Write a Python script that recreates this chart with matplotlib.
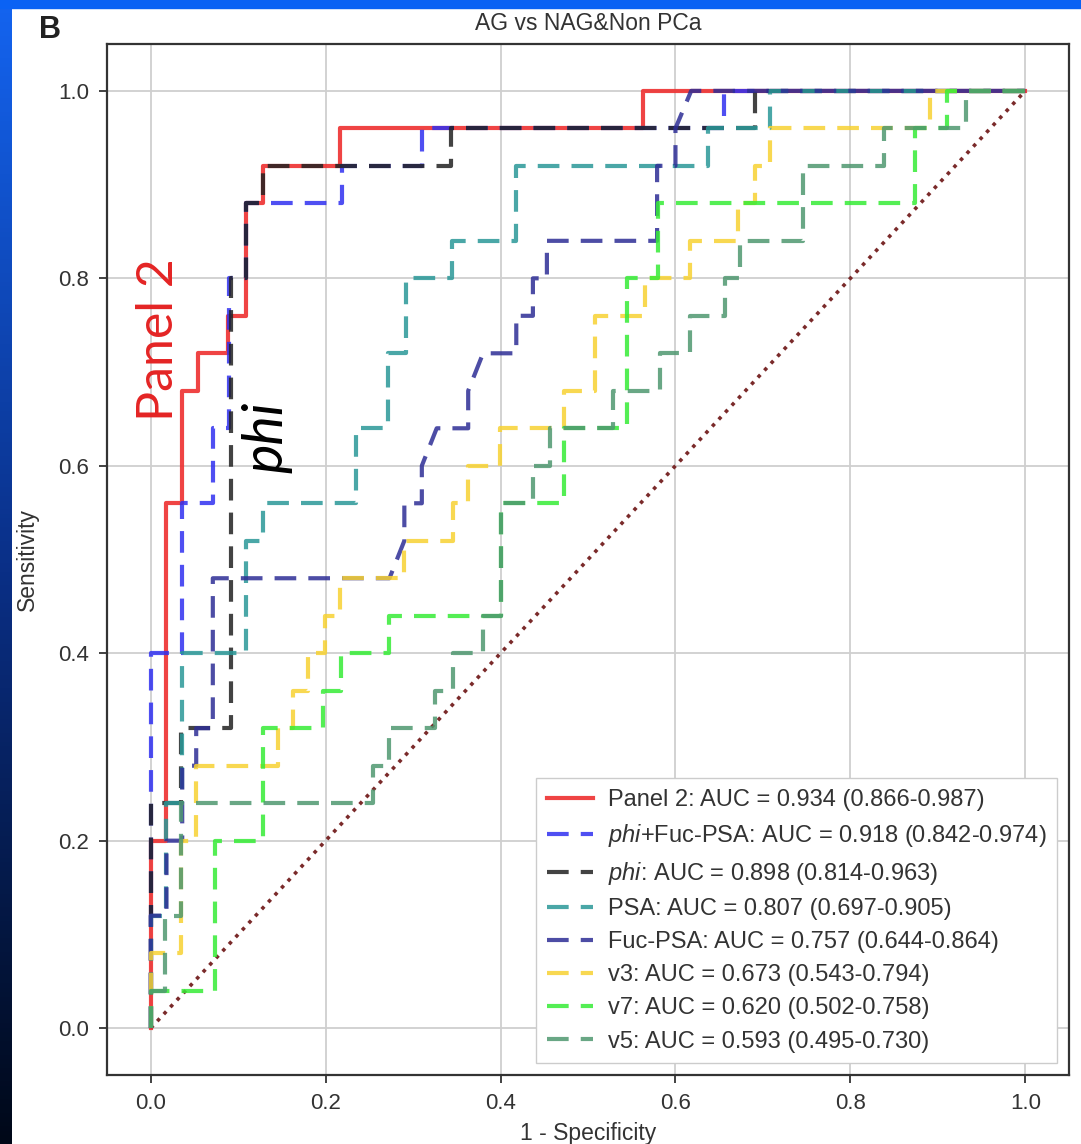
import numpy as np
import matplotlib
matplotlib.use("Agg")
import matplotlib.pyplot as plt
from matplotlib.colors import LinearSegmentedColormap
from matplotlib.patches import Rectangle

plt.rcParams['font.family'] = ['Liberation Sans', 'DejaVu Sans']
plt.rcParams['mathtext.fontset'] = 'custom'
plt.rcParams['mathtext.it'] = 'Liberation Sans:italic'
plt.rcParams['mathtext.rm'] = 'Liberation Sans'

# ---------------- data ----------------
title = "AG vs NAG&Non PCa"
ticks = [0.0, 0.2, 0.4, 0.6, 0.8, 1.0]

panel2_fpr = [0, 0, 0.018, 0.018, 0.036, 0.036, 0.054, 0.054, 0.088, 0.088, 0.109, 0.109,
              0.128, 0.128, 0.216, 0.216, 0.563, 0.563, 1.0]
panel2_tpr = [0, 0.20, 0.20, 0.56, 0.56, 0.68, 0.68, 0.72, 0.72, 0.76, 0.76, 0.88,
              0.88, 0.92, 0.92, 0.96, 0.96, 1.0, 1.0]

phifuc_fpr = [0, 0, 0.036, 0.036, 0.071, 0.071, 0.090, 0.090, 0.109, 0.109, 0.219, 0.219,
              0.310, 0.310, 0.656, 0.656, 1.0]
phifuc_tpr = [0, 0.40, 0.40, 0.56, 0.56, 0.64, 0.64, 0.80, 0.80, 0.88, 0.88, 0.92,
              0.92, 0.96, 0.96, 1.0, 1.0]

phi_fpr = [0, 0, 0.035, 0.035, 0.092, 0.092, 0.109, 0.109, 0.128, 0.128, 0.343, 0.343,
           0.691, 0.691, 1.0]
phi_tpr = [0, 0.24, 0.24, 0.32, 0.32, 0.80, 0.80, 0.88, 0.88, 0.92, 0.92, 0.96,
           0.96, 1.0, 1.0]

psa_fpr = [0, 0, 0.018, 0.018, 0.036, 0.036, 0.109, 0.109, 0.128, 0.128, 0.235, 0.235,
           0.271, 0.271, 0.292, 0.292, 0.344, 0.344, 0.418, 0.418, 0.637, 0.637,
           0.708, 0.708, 1.0]
psa_tpr = [0, 0.12, 0.12, 0.24, 0.24, 0.40, 0.40, 0.52, 0.52, 0.56, 0.56, 0.64,
           0.64, 0.72, 0.72, 0.80, 0.80, 0.84, 0.84, 0.92, 0.92, 0.96,
           0.96, 1.0, 1.0]

fucpsa_fpr = [0, 0, 0.018, 0.018, 0.036, 0.036, 0.052, 0.052, 0.071, 0.071, 0.273, 0.290,
              0.290, 0.310, 0.310, 0.327, 0.363, 0.363, 0.380, 0.418, 0.418, 0.437,
              0.437, 0.453, 0.453, 0.579, 0.579, 0.600, 0.600, 0.618, 1.0]
fucpsa_tpr = [0, 0.12, 0.12, 0.20, 0.20, 0.28, 0.28, 0.32, 0.32, 0.48, 0.48, 0.52,
              0.56, 0.56, 0.60, 0.64, 0.64, 0.68, 0.72, 0.72, 0.76, 0.76,
              0.80, 0.80, 0.84, 0.84, 0.92, 0.92, 0.96, 1.0, 1.0]

v3_fpr = [0, 0, 0.035, 0.035, 0.052, 0.052, 0.146, 0.146, 0.163, 0.163, 0.180, 0.180,
          0.199, 0.199, 0.216, 0.216, 0.290, 0.290, 0.346, 0.346, 0.363, 0.363,
          0.399, 0.399, 0.472, 0.472, 0.508, 0.508, 0.565, 0.565, 0.617, 0.617,
          0.672, 0.672, 0.691, 0.691, 0.708, 0.708, 0.891, 0.891, 1.0]
v3_tpr = [0, 0.08, 0.08, 0.20, 0.20, 0.28, 0.28, 0.32, 0.32, 0.36, 0.36, 0.40,
          0.40, 0.44, 0.44, 0.48, 0.48, 0.52, 0.52, 0.56, 0.56, 0.60,
          0.60, 0.64, 0.64, 0.68, 0.68, 0.76, 0.76, 0.80, 0.80, 0.84,
          0.84, 0.88, 0.88, 0.92, 0.92, 0.96, 0.96, 1.0, 1.0]

v7_fpr = [0, 0, 0.073, 0.073, 0.128, 0.128, 0.197, 0.197, 0.218, 0.218, 0.273, 0.273,
          0.400, 0.400, 0.472, 0.472, 0.545, 0.545, 0.580, 0.580, 0.874, 0.874,
          0.910, 0.910, 1.0]
v7_tpr = [0, 0.04, 0.04, 0.20, 0.20, 0.32, 0.32, 0.36, 0.36, 0.40, 0.40, 0.44,
          0.44, 0.56, 0.56, 0.64, 0.64, 0.80, 0.80, 0.88, 0.88, 0.96,
          0.96, 1.0, 1.0]

v5_fpr = [0, 0, 0.016, 0.016, 0.035, 0.035, 0.254, 0.254, 0.273, 0.273, 0.325, 0.325,
          0.346, 0.346, 0.380, 0.380, 0.400, 0.400, 0.437, 0.437, 0.457, 0.457,
          0.529, 0.529, 0.582, 0.582, 0.617, 0.617, 0.657, 0.657, 0.674, 0.674,
          0.746, 0.746, 0.838, 0.838, 0.932, 0.932, 1.0]
v5_tpr = [0, 0.04, 0.04, 0.12, 0.12, 0.24, 0.24, 0.28, 0.28, 0.32, 0.32, 0.36,
          0.36, 0.40, 0.40, 0.44, 0.44, 0.56, 0.56, 0.60, 0.60, 0.64,
          0.64, 0.68, 0.68, 0.72, 0.72, 0.76, 0.76, 0.80, 0.80, 0.84,
          0.84, 0.92, 0.92, 0.96, 0.96, 1.0, 1.0]

labels = [
    "Panel 2: AUC = 0.934 (0.866-0.987)",
    r"$\it{phi}$+Fuc-PSA: AUC = 0.918 (0.842-0.974)",
    r"$\it{phi}$: AUC = 0.898 (0.814-0.963)",
    "PSA: AUC = 0.807 (0.697-0.905)",
    "Fuc-PSA: AUC = 0.757 (0.644-0.864)",
    "v3: AUC = 0.673 (0.543-0.794)",
    "v7: AUC = 0.620 (0.502-0.758)",
    "v5: AUC = 0.593 (0.495-0.730)",
]
colors = ["#ee3030", "#3030f0", "#222222", "#2a9898", "#2e2e96",
          "#f7d232", "#36ec36", "#4f9870"]

curves = [(panel2_fpr, panel2_tpr), (phifuc_fpr, phifuc_tpr), (phi_fpr, phi_tpr),
          (psa_fpr, psa_tpr), (fucpsa_fpr, fucpsa_tpr), (v3_fpr, v3_tpr),
          (v7_fpr, v7_tpr), (v5_fpr, v5_tpr)]

# ---------------- figure ----------------
W, H = 1081, 1144
fig = plt.figure(figsize=(W / 100, H / 100), dpi=100)
fig.patch.set_facecolor("white")

# decorative slide background edges
grad_ax = fig.add_axes([0, 0, 12 / W, 1])
grad = np.linspace(0, 1, 256).reshape(-1, 1)
cmap = LinearSegmentedColormap.from_list("bg", ["#000818", "#0a2f86", "#1464f0"])
grad_ax.imshow(grad, aspect="auto", cmap=cmap, origin="lower", extent=[0, 1, 0, 1])
grad_ax.axis("off")
fig.add_artist(Rectangle((0, 1 - 8 / H), 1, 8 / H, transform=fig.transFigure,
                         color="#0a62f4", zorder=5))

ax = fig.add_axes([107 / W, 1 - 1075 / H, (1069 - 107) / W, (1075 - 44) / H])

ax.plot([0, 1], [0, 1], linestyle=":", color="#7a2a2a", linewidth=2.6, zorder=1)

for i, ((fx, ty), lab, col) in enumerate(zip(curves, labels, colors)):
    if i == 0:
        ax.plot(fx, ty, color=col, linewidth=3.0, alpha=0.9, label=lab, zorder=2)
    else:
        ax.plot(fx, ty, color=col, linewidth=3.0, alpha=0.85, linestyle=(0, (5.2, 2.9)),
                label=lab, zorder=2 + i)

ax.set_xlim(-0.05, 1.05)
ax.set_ylim(-0.05, 1.05)
ax.set_xticks(ticks)
ax.set_yticks(ticks)
ax.set_xticklabels([f"{t:.1f}" for t in ticks])
ax.set_yticklabels([f"{t:.1f}" for t in ticks])
ax.tick_params(labelsize=16, length=6, width=1.3, color="#333333", labelcolor="#333333", pad=7)
ax.grid(True, color="#cfcfcf", linewidth=1.3)
ax.set_axisbelow(True)
for s in ax.spines.values():
    s.set_color("#333333")
    s.set_linewidth(1.6)

ax.set_xlabel("1 - Specificity", fontsize=16.5, color="#333333", labelpad=6)
ax.set_ylabel("Sensitivity", fontsize=16.5, color="#333333", labelpad=14)
ax.set_title(title, fontsize=16.5, color="#333333", pad=10)

leg = ax.legend(loc="lower right", fontsize=17, handlelength=1.95, handletextpad=0.65,
                labelspacing=0.47, borderpad=0.45, framealpha=1.0, edgecolor="#cccccc",
                fancybox=False)
for t in leg.get_texts():
    t.set_color("#333333")

ax.text(0.009, 0.735, "Panel 2", rotation=90, color="#e42424", fontsize=36,
        family="Lato", ha="center", va="center", zorder=20)
ax.text(0.133, 0.63, "phi", rotation=90, color="black", fontsize=40,
        family="Lato", style="italic", ha="center", va="center", zorder=20)

fig.text(50 / W, 1 - 30 / H, "B", fontsize=22, fontweight="bold", color="#222222",
         ha="center", va="center")

fig.savefig("out.png", dpi=100)
